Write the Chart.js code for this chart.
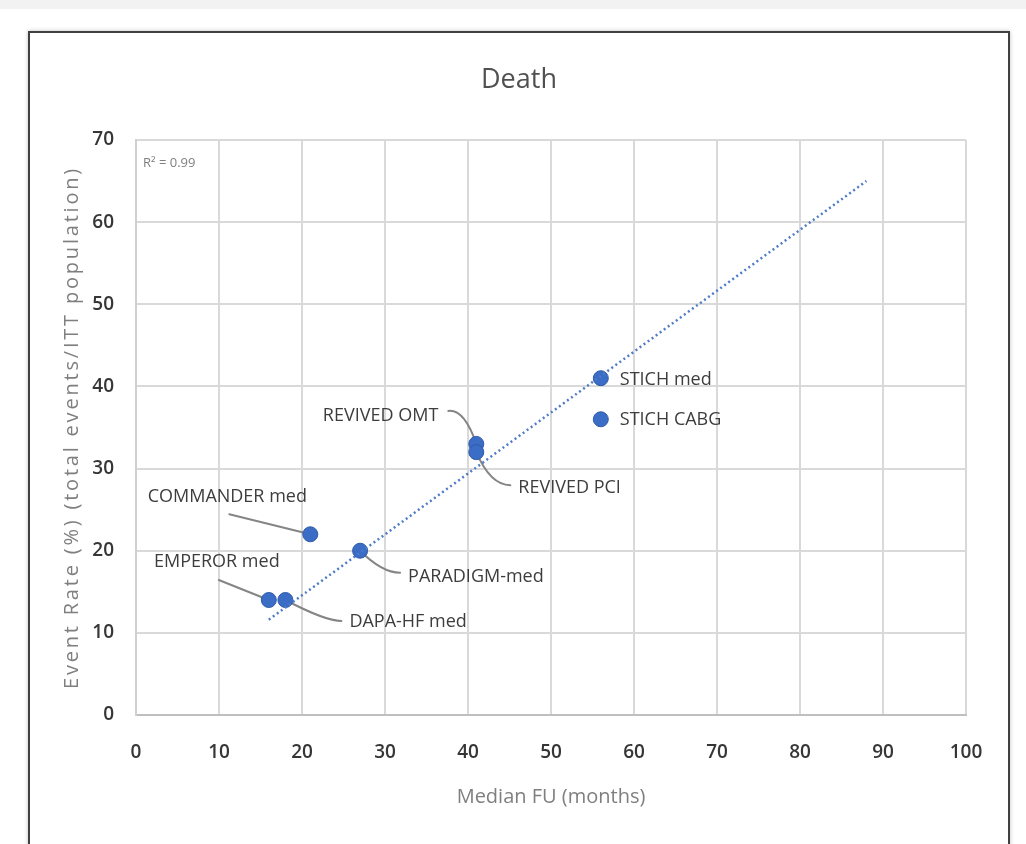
<!DOCTYPE html>
<html>
<head>
<meta charset="utf-8">
<script src="https://cdn.jsdelivr.net/npm/chart.js@4.4.1/dist/chart.umd.min.js"></script>
<style>
    body { margin: 0; background: #fff; width: 1026px; height: 844px; overflow: hidden; position: relative; }
    #strip { position: absolute; left: 0; top: 0; width: 1026px; height: 9px; background: #f2f2f2; }
    #frame { position: absolute; left: 28px; top: 31px; width: 978px; height: 840px; border: 2px solid #404040; box-shadow: 0 0 4px rgba(0,0,0,0.25); }
    #wrap { position: absolute; left: 0; top: 0; width: 1026px; height: 844px; }
</style>
</head>
<body>
<div id="strip"></div>
<div id="frame"></div>
<div id="wrap"><canvas id="deathChart" width="1026" height="844"></canvas></div>
<script>
const chartTitle = 'Death';
const xAxisTitle = 'Median FU (months)';
const yAxisTitle = 'Event Rate (%) (total events/ITT population)';
const studyNames = ['EMPEROR med', 'DAPA-HF med', 'COMMANDER med', 'PARADIGM-med', 'REVIVED OMT', 'REVIVED PCI', 'STICH med', 'STICH CABG'];
const followUpMonths = [16, 18, 21, 27, 41, 41, 56, 56];
const eventRates = [14, 14, 22, 20, 33, 32, 41, 36];
const trendX = [16, 88];
const trendY = [11.6, 65];
const rSquaredText = 'R\u00b2 = 0.99';

// where each label sits relative to its point (pixels), and its leader line
// leader: start, control, end (quadratic) ... end is the point itself or near it
const labelLayout = [
    { dx: -52, dy: -38, align: 'center', leader: [[-50, -20], [-20, -8], [0, 0]] },
    { dx: 64, dy: 22, align: 'left', leader: [[0, 0], [40, 21], [56, 21]] },
    { dx: -83, dy: -37, align: 'center', leader: [[-81, -20], [-40, -10], [0, 0]] },
    { dx: 48, dy: 26, align: 'left', leader: [[0, 0], [22, 22], [40, 22]] },
    { dx: -38, dy: -28, align: 'right', leader: [[-28, -33], [-12, -35], [0, 0]] },
    { dx: 42, dy: 36, align: 'left', leader: [[0, 0], [14, 33], [34, 33]] },
    { dx: 19, dy: 2, align: 'left', leader: null },
    { dx: 19, dy: 1, align: 'left', leader: null }
];

const FONT = '"Open Sans", "Noto Sans", sans-serif';

const pointLabels = {
    id: 'pointLabels',
    beforeDatasetsDraw(chart) {
        const ctx = chart.ctx;
        const meta = chart.getDatasetMeta(1);
        ctx.save();
        ctx.strokeStyle = '#858585';
        ctx.lineWidth = 2;
        ctx.lineCap = 'round';
        meta.data.forEach((pt, i) => {
            const lay = labelLayout[i];
            if (!lay.leader) return;
            const [a, c, b] = lay.leader;
            ctx.beginPath();
            ctx.moveTo(pt.x + a[0], pt.y + a[1]);
            ctx.quadraticCurveTo(pt.x + c[0], pt.y + c[1], pt.x + b[0], pt.y + b[1]);
            ctx.stroke();
        });
        ctx.restore();
    },
    afterDraw(chart) {
        const ctx = chart.ctx;
        const meta = chart.getDatasetMeta(1);
        const area = chart.chartArea;
        ctx.save();
        ctx.font = '18px ' + FONT;
        ctx.fillStyle = '#3d3d3d';
        ctx.textBaseline = 'middle';
        meta.data.forEach((pt, i) => {
            const lay = labelLayout[i];
            ctx.textAlign = lay.align;
            ctx.fillText(studyNames[i], pt.x + lay.dx, pt.y + lay.dy);
        });
        // R squared note
        ctx.font = '13px ' + FONT;
        ctx.fillStyle = '#7f7f7f';
        ctx.textAlign = 'left';
        ctx.fillText(rSquaredText, area.left + 7, area.top + 23);
        // chart title, centred on the frame
        ctx.font = '27px ' + FONT;
        ctx.fillStyle = '#505050';
        ctx.textAlign = 'center';
        ctx.fillText(chartTitle, 519, 80);
        // y axis title, letter-spaced
        ctx.translate(72, (area.top + area.bottom) / 2);
        ctx.rotate(-Math.PI / 2);
        ctx.font = '20px ' + FONT;
        ctx.letterSpacing = '2.8px';
        ctx.fillStyle = '#7f7f7f';
        ctx.fillText(yAxisTitle, 0, 0);
        ctx.restore();
    }
};

new Chart(document.getElementById('deathChart').getContext('2d'), {
    type: 'scatter',
    data: {
        datasets: [{
            label: 'Trend',
            data: trendX.map((x, i) => ({ x: x, y: trendY[i] })),
            showLine: true,
            borderColor: '#4f7bc8',
            borderWidth: 2.5,
            borderDash: [2, 3],
            pointRadius: 0,
            fill: false
        }, {
            label: 'Death',
            data: followUpMonths.map((x, i) => ({ x: x, y: eventRates[i] })),
            backgroundColor: '#3b6cc6',
            borderColor: '#2f5aa8',
            borderWidth: 1,
            pointRadius: 7.5,
            pointHoverRadius: 7.5
        }]
    },
    options: {
        responsive: false,
        animation: false,
        layout: { padding: { left: 58, right: 60, top: 140, bottom: 31 } },
        plugins: {
            legend: { display: false },
            tooltip: { enabled: false },
            title: { display: false }
        },
        scales: {
            x: {
                type: 'linear',
                min: 0,
                max: 100,
                ticks: { stepSize: 10, color: '#363636', padding: 26, font: { family: FONT, size: 19, weight: '600' } },
                grid: { color: '#d9d9d9', lineWidth: 2, drawTicks: false },
                border: { color: '#bfbfbf', width: 2 },
                title: { display: true, text: xAxisTitle, color: '#7f7f7f', font: { family: FONT, size: 20 }, padding: { top: 4, bottom: 4 } },
                afterFit(scale) { scale.height = 98; }
            },
            y: {
                type: 'linear',
                min: 0,
                max: 70,
                ticks: { stepSize: 10, color: '#363636', padding: 22, font: { family: FONT, size: 19, weight: '600' } },
                grid: { color: '#d9d9d9', lineWidth: 2, drawTicks: false },
                border: { color: '#d0d0d0', width: 2 },
                title: { display: false },
                afterFit(scale) { scale.width = 78; }
            }
        }
    },
    plugins: [pointLabels]
});
</script>
</body>
</html>
